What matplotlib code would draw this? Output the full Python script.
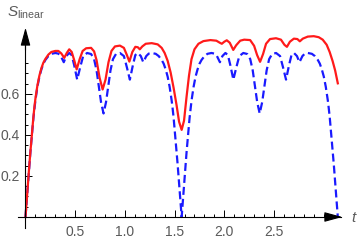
import matplotlib
import matplotlib.pyplot as plt

matplotlib.use("Agg")

# dashed (blue) curve
t_blue = [0.000, 0.010, 0.020, 0.030, 0.040, 0.050, 0.060, 0.070, 0.080, 0.090,
          0.100, 0.120, 0.140, 0.160, 0.180, 0.200, 0.230, 0.260, 0.300, 0.330,
          0.355, 0.385, 0.410, 0.440, 0.465, 0.490, 0.520, 0.550, 0.580, 0.620,
          0.660, 0.690, 0.715, 0.740, 0.760, 0.785, 0.810, 0.830, 0.855, 0.880,
          0.910, 0.950, 0.990, 1.020, 1.050, 1.080, 1.105, 1.130, 1.160, 1.185,
          1.215, 1.240, 1.270, 1.310, 1.340, 1.370, 1.390, 1.410, 1.430, 1.450,
          1.470, 1.480, 1.490, 1.500, 1.510, 1.520, 1.530, 1.540, 1.550, 1.560,
          1.571,
          1.581, 1.591, 1.601, 1.611, 1.621, 1.631, 1.641, 1.651, 1.661, 1.671,
          1.691, 1.711, 1.731, 1.751, 1.771, 1.801, 1.831, 1.871, 1.901, 1.926,
          1.956, 1.981, 2.011, 2.036, 2.061, 2.091, 2.121, 2.151, 2.191, 2.231,
          2.261, 2.286, 2.311, 2.331, 2.356, 2.381, 2.401, 2.426, 2.451, 2.481,
          2.521, 2.561, 2.591, 2.621, 2.651, 2.676, 2.701, 2.731, 2.756, 2.786,
          2.811, 2.841, 2.881, 2.911, 2.941, 2.961, 2.981, 3.001, 3.021, 3.041,
          3.051, 3.061, 3.071, 3.081, 3.091, 3.101, 3.111, 3.121, 3.131, 3.142]
s_blue = [0.000, 0.065, 0.130, 0.195, 0.260, 0.320, 0.375, 0.430, 0.485, 0.530,
          0.570, 0.635, 0.685, 0.720, 0.748, 0.766, 0.785, 0.796, 0.800, 0.797,
          0.785, 0.755, 0.785, 0.800, 0.790, 0.740, 0.670, 0.730, 0.785, 0.800,
          0.795, 0.770, 0.715, 0.630, 0.560, 0.505, 0.560, 0.630, 0.715, 0.770,
          0.795, 0.800, 0.785, 0.730, 0.670, 0.740, 0.790, 0.800, 0.785, 0.755,
          0.785, 0.797, 0.800, 0.796, 0.785, 0.766, 0.748, 0.720, 0.685, 0.635,
          0.570, 0.530, 0.485, 0.430, 0.375, 0.320, 0.260, 0.195, 0.130, 0.065,
          0.000,
          0.065, 0.130, 0.195, 0.260, 0.320, 0.375, 0.430, 0.485, 0.530, 0.570,
          0.635, 0.685, 0.720, 0.748, 0.766, 0.785, 0.796, 0.800, 0.797, 0.785,
          0.755, 0.785, 0.800, 0.790, 0.740, 0.670, 0.730, 0.785, 0.800, 0.795,
          0.770, 0.715, 0.630, 0.560, 0.505, 0.560, 0.630, 0.715, 0.770, 0.795,
          0.800, 0.785, 0.730, 0.670, 0.740, 0.790, 0.800, 0.785, 0.755, 0.785,
          0.797, 0.800, 0.796, 0.785, 0.766, 0.748, 0.720, 0.685, 0.635, 0.570,
          0.530, 0.485, 0.430, 0.375, 0.320, 0.260, 0.195, 0.130, 0.065, 0.000]

# solid (red) curve
t_red = [0.000, 0.010, 0.020, 0.030, 0.040, 0.050, 0.060, 0.070, 0.080, 0.090,
         0.100, 0.120, 0.140, 0.160, 0.180, 0.200, 0.230, 0.260, 0.300, 0.330,
         0.360, 0.390, 0.415, 0.440, 0.465, 0.490, 0.515, 0.545, 0.575, 0.610,
         0.660, 0.690, 0.715, 0.745, 0.776, 0.805, 0.835, 0.865, 0.900, 0.950,
         0.990, 1.020, 1.045, 1.075, 1.105, 1.130, 1.150, 1.175, 1.210, 1.270,
         1.330, 1.370, 1.400, 1.430, 1.460, 1.490, 1.520, 1.545, 1.571, 1.595,
         1.620, 1.645, 1.670, 1.700, 1.740, 1.790, 1.860, 1.920, 1.955, 1.975,
         2.000, 2.025, 2.055, 2.090, 2.120, 2.160, 2.200, 2.260, 2.300, 2.330,
         2.360, 2.390, 2.420, 2.460, 2.520, 2.570, 2.605, 2.630, 2.660, 2.700,
         2.735, 2.760, 2.790, 2.840, 2.900, 2.950, 2.990, 3.030, 3.060, 3.090,
         3.115, 3.142]
s_red = [0.000, 0.065, 0.130, 0.197, 0.262, 0.322, 0.378, 0.435, 0.490, 0.538,
         0.578, 0.642, 0.690, 0.726, 0.753, 0.771, 0.792, 0.805, 0.810, 0.810,
         0.798, 0.776, 0.800, 0.818, 0.805, 0.765, 0.720, 0.770, 0.810, 0.823,
         0.825, 0.808, 0.765, 0.680, 0.622, 0.670, 0.755, 0.810, 0.832, 0.836,
         0.825, 0.790, 0.758, 0.805, 0.830, 0.828, 0.818, 0.832, 0.845, 0.848,
         0.842, 0.825, 0.800, 0.762, 0.705, 0.630, 0.545, 0.465, 0.425, 0.470,
         0.585, 0.690, 0.770, 0.818, 0.845, 0.858, 0.863, 0.860, 0.850, 0.845,
         0.855, 0.862, 0.850, 0.815, 0.838, 0.860, 0.865, 0.863, 0.835, 0.790,
         0.757, 0.795, 0.845, 0.868, 0.872, 0.865, 0.840, 0.830, 0.855, 0.870,
         0.868, 0.857, 0.870, 0.880, 0.882, 0.877, 0.865, 0.840, 0.805, 0.760,
         0.715, 0.652]

x_major = [0.5, 1.0, 1.5, 2.0, 2.5]
x_labels = ["0.5", "1.0", "1.5", "2.0", "2.5"]
x_minor = [0.1, 0.2, 0.3, 0.4, 0.6, 0.7, 0.8, 0.9, 1.1, 1.2, 1.3, 1.4, 1.6, 1.7,
           1.8, 1.9, 2.1, 2.2, 2.3, 2.4, 2.6, 2.7, 2.8, 2.9, 3.0]
y_major = [0.2, 0.4, 0.6]
y_labels = ["0.2", "0.4", "0.6"]
y_minor = [0.05, 0.1, 0.15, 0.25, 0.3, 0.35, 0.45, 0.5, 0.55, 0.65, 0.7, 0.75]

GRAY = "#5a5a5a"

plt.rcParams["font.family"] = "Liberation Sans"
plt.rcParams["mathtext.fontset"] = "custom"
plt.rcParams["mathtext.rm"] = "Liberation Sans"
plt.rcParams["mathtext.it"] = "Liberation Sans:italic"

fig = plt.figure(figsize=(3.6, 2.4), dpi=100)
ax = fig.add_axes([0, 0, 1, 1])
ax.set_xlim(-0.2565, 3.3652)
ax.set_ylim(-0.1122, 1.0585)
ax.patch.set_visible(False)

ax.plot(t_blue, s_blue, color="#1a1aff", lw=1.6, dashes=(3.6, 1.8))
ax.plot(t_red, s_red, color="#ff1a1a", lw=1.6)

# axes through the origin, Mathematica style
for side in ["top", "right"]:
    ax.spines[side].set_visible(False)
ax.spines["left"].set_position(("data", 0))
ax.spines["bottom"].set_position(("data", 0))
ax.spines["left"].set_bounds(-0.055, 0.90)
ax.spines["bottom"].set_bounds(-0.073, 3.17)
ax.spines["left"].set_linewidth(0.8)
ax.spines["bottom"].set_linewidth(0.8)

ax.annotate("", xy=(3.215, 0), xytext=(3.0, 0),
            arrowprops=dict(arrowstyle="-|>,head_length=1.1,head_width=0.3",
                            color="black", lw=0.8, mutation_scale=10))
ax.annotate("", xy=(0, 0.937), xytext=(0, 0.8),
            arrowprops=dict(arrowstyle="-|>,head_length=1.1,head_width=0.3",
                            color="black", lw=0.8, mutation_scale=10))

ax.set_xticks(x_major)
ax.set_xticklabels(x_labels)
ax.set_xticks(x_minor, minor=True)
ax.set_yticks(y_major)
ax.set_yticklabels(y_labels)
ax.set_yticks(y_minor, minor=True)
ax.tick_params(which="both", direction="in", width=0.7, color="black",
               labelcolor=GRAY, labelsize=10)
ax.tick_params(which="major", length=4.7)
ax.tick_params(which="minor", length=2.4)
ax.tick_params(axis="x", which="major", pad=5.5)
ax.tick_params(axis="y", which="major", pad=4)

fig.text(7 / 360, 1 - 13 / 240, r"$S_{\mathrm{linear}}$", color=GRAY,
         fontsize=11, ha="left", va="center")
fig.text(351 / 360, 1 - 218 / 240, r"$t$", color=GRAY,
         fontsize=11, ha="left", va="center")

fig.savefig("out.png", dpi=100)
